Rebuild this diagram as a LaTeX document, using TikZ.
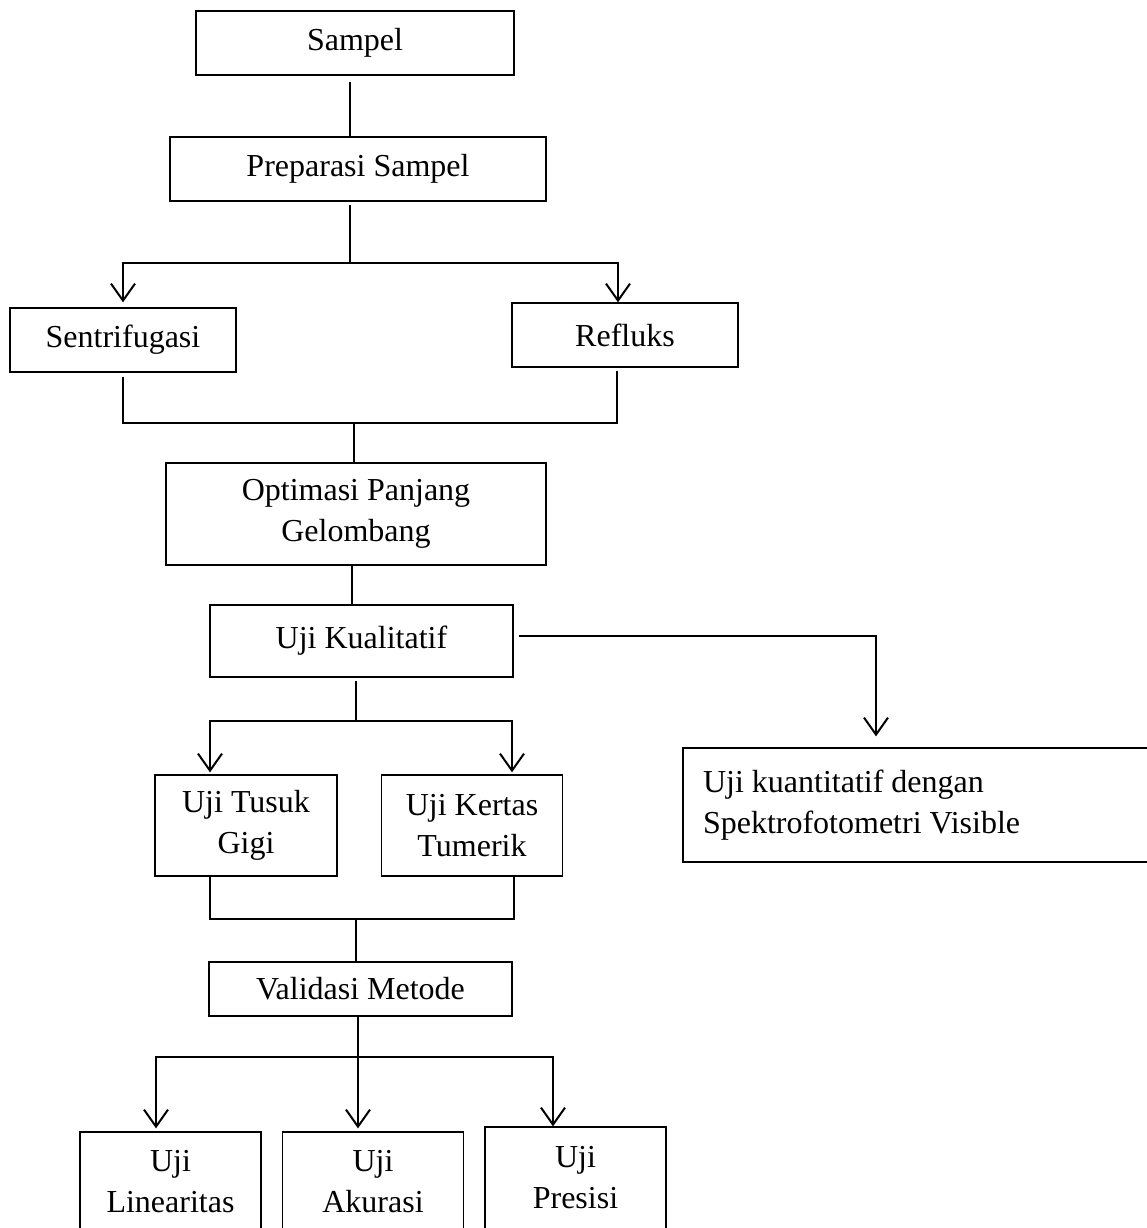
\documentclass[tikz,border=0pt]{standalone}
\usepackage{fontspec}
\setmainfont{Liberation Serif}
\usetikzlibrary{arrows.meta}
\begin{document}
\begin{tikzpicture}[x=1pt,y=-1pt,
  box/.style={draw, line width=1.3pt, inner sep=0pt, align=center, font=\fontsize{32}{41}\selectfont},
  conn/.style={line width=2pt},
  arr/.style={line width=2pt, -{Straight Barb[length=17pt,width=24pt]}}]
\path[use as bounding box, clip] (0,0) rectangle (1147,1228);
\fill[white] (0,0) rectangle (1147,1228);

\node[box, minimum width=318pt, minimum height=64pt] (sampel) at (355,43) {Sampel};
\node[box, minimum width=376pt, minimum height=64pt] (prep) at (358,169) {Preparasi Sampel};
\node[box, minimum width=226pt, minimum height=64pt] (sent) at (123,340) {Sentrifugasi};
\node[box, minimum width=226pt, minimum height=64pt] (ref) at (625,335) {Refluks};
\node[box, minimum width=380pt, minimum height=102pt] (opt) at (356,514) {Optimasi Panjang\\Gelombang};
\node[box, minimum width=303pt, minimum height=72pt] (kual) at (361.5,641) {Uji Kualitatif};
\node[box, align=flush left, text width=447pt, minimum width=487pt, minimum height=114pt] (kuan) at (926.5,805) {Uji kuantitatif dengan\\Spektrofotometri Visible};
\node[box, minimum width=182pt, minimum height=101pt] (tusuk) at (246,825.5) {Uji Tusuk\\Gigi};
\node[box, minimum width=181pt, minimum height=101pt] (kertas) at (472,825.5) {Uji Kertas\\Tumerik};
\node[box, minimum width=303pt, minimum height=54pt] (valid) at (360.5,989) {Validasi Metode};
\node[box, minimum width=181pt, minimum height=100pt] (lin) at (170.5,1182) {Uji\\Linearitas};
\node[box, minimum width=181pt, minimum height=100pt] (aku) at (373,1182) {Uji\\Akurasi};
\node[box, minimum width=181pt, minimum height=102pt] (pres) at (575.5,1178) {Uji\\Presisi};

% Sampel -> Preparasi -> split
\coordinate (j1) at (350,263);
\draw[conn, shorten <=6pt] (sampel.south -| j1) -- (prep.north -| j1);
\draw[conn, shorten <=3pt] (prep.south -| j1) -- (j1);
\draw[arr, shorten >=5pt] (j1) -| (sent.north);
\draw[arr] (j1) -| ([xshift=-7pt]ref.north);

% merge -> Optimasi
\coordinate (m1) at (354,423);
\draw[conn, shorten <=4pt] (sent.south) |- (m1);
\draw[conn, shorten <=3pt] ([xshift=-8pt]ref.south) |- (m1);
\draw[conn] (m1) -- (opt.north -| m1);

% Optimasi -> Kualitatif
\draw[conn] ([xshift=-4pt]opt.south) -- ([xshift=-4pt]opt.south |- kual.north);

% Kualitatif -> Kuantitatif
\coordinate (k1) at (876,636);
\draw[arr, shorten <=5pt, shorten >=11pt] (kual.east |- k1) -- (k1) -- (kuan.north -| k1);

% Kualitatif split
\coordinate (j2) at (356,721);
\draw[conn, shorten <=3pt] (kual.south -| j2) -- (j2);
\draw[arr, shorten >=2pt] (j2) -| ([xshift=-36pt]tusuk.north);
\draw[arr, shorten >=2pt] (j2) -| ([xshift=40pt]kertas.north);

% merge -> Validasi
\coordinate (m2) at (356,919);
\draw[conn] ([xshift=-36pt]tusuk.south) |- (m2);
\draw[conn] ([xshift=42pt]kertas.south) |- (m2);
\draw[conn] (m2) -- (valid.north -| m2);

% Validasi split
\coordinate (j3) at (358,1057);
\draw[conn] (valid.south -| j3) -- (j3);
\draw[arr, shorten >=3pt] (j3) -| ([xshift=-14.5pt]lin.north);
\draw[arr, shorten >=3pt] (j3) -- (aku.north -| j3);
\draw[arr] (j3) -| ([xshift=-22.5pt]pres.north);
\end{tikzpicture}
\end{document}
